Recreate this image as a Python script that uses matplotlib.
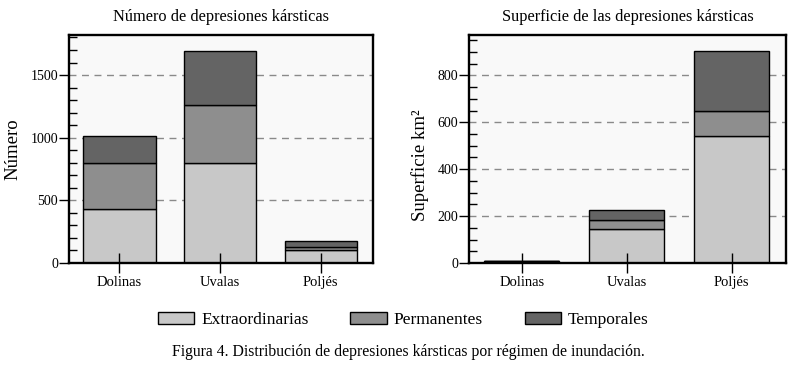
import numpy as np
import matplotlib
matplotlib.use('Agg')
import matplotlib.pyplot as plt
from matplotlib.ticker import MultipleLocator

plt.rcParams['font.family'] = ['Liberation Serif', 'DejaVu Serif']

categories = ['Dolinas', 'Uvalas', 'Poljés']
series_names = ['Extraordinarias', 'Permanentes', 'Temporales']
colors = ['#c8c8c8', '#8e8e8e', '#646464']

# Número de depresiones
num_extra = [435, 795, 100]
num_perm = [365, 468, 30]
num_temp = [211, 426, 45]

# Superficie (km2)
sup_extra = [10, 146, 540]
sup_perm = [0, 36, 106]
sup_temp = [0, 42, 256]


def stacked(ax, series, title, ylabel, ymax, major, minor):
    x = np.arange(len(categories))
    bottom = np.zeros(len(categories))
    handles = []
    for vals, col, name in zip(series, colors, series_names):
        b = ax.bar(x, vals, width=0.72, bottom=bottom, color=col,
                   edgecolor='black', linewidth=1.0, label=name, zorder=2)
        handles.append(b)
        bottom += np.array(vals)
    ax.set_facecolor('#f9f9f9')
    ax.set_axisbelow(False)
    ax.set_xlim(-0.5, 2.52)
    ax.set_ylim(0, ymax)
    ax.yaxis.set_major_locator(MultipleLocator(major))
    ax.yaxis.set_minor_locator(MultipleLocator(minor))
    # dashed grid behind the bars, ticks stay on top
    for yv in ax.get_yticks():
        if 0 < yv < ymax:
            ax.axhline(yv, color='#8a8a8a', linestyle=(0, (5, 4)),
                       linewidth=1.0, zorder=1)
    ax.set_xticks(x)
    ax.set_xticklabels(categories, fontsize=10.5)
    ax.tick_params(axis='x', direction='inout', length=15, width=1.0, pad=2)
    # major ticks point out, minor ticks point in
    ax.tick_params(axis='y', which='major', direction='out', length=7,
                   width=1.0, labelsize=10, pad=1)
    ax.tick_params(axis='y', which='minor', direction='in', length=6, width=1.0)
    for s in ax.spines.values():
        s.set_linewidth(1.7)
        s.set_zorder(3)
    ax.set_title(title, fontsize=11.8, pad=10)
    ax.set_ylabel(ylabel, fontsize=13.5)
    return handles


fig = plt.figure(figsize=(7.94, 3.72), dpi=100)
ax1 = fig.add_axes([0.087, 0.293, 0.383, 0.613])
ax2 = fig.add_axes([0.591, 0.293, 0.399, 0.613])

handles = stacked(ax1, [num_extra, num_perm, num_temp],
                  'Número de depresiones kársticas', 'Número', 1820, 500, 100)
stacked(ax2, [sup_extra, sup_perm, sup_temp],
        'Superficie de las depresiones kársticas', 'Superficie km²', 972, 200, 50)
ax1.yaxis.set_label_coords(-0.155, 0.5)
ax2.yaxis.set_label_coords(-0.128, 0.43)

fig.legend(handles, series_names, loc='center', bbox_to_anchor=(0.508, 0.14),
           ncol=3, frameon=False, fontsize=12.5, handlelength=2.1,
           handleheight=0.75, columnspacing=2.4, handletextpad=0.4)

fig.text(0.514, 0.053, 'Figura 4. Distribución de depresiones kársticas por régimen de inundación.',
         ha='center', va='center', fontsize=11.3)

fig.savefig('out.png', dpi=100)
